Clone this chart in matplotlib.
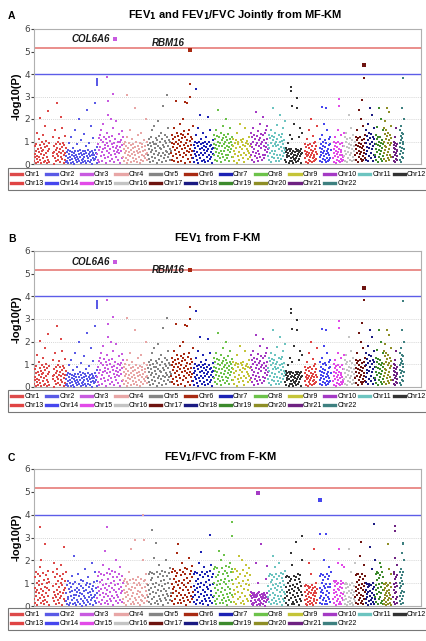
import matplotlib
matplotlib.use("Agg")
import matplotlib.pyplot as plt
import numpy as np
from matplotlib.lines import Line2D

CHROMS = [f"Chr{i}" for i in range(1, 23)]
CHR_LENGTH_MB = [247.2, 242.8, 199.5, 191.3, 180.9, 170.9, 158.8, 146.3, 140.3, 135.4, 134.5,
                 132.3, 114.1, 106.4, 100.3, 88.8, 78.8, 76.1, 63.8, 62.4, 46.9, 49.7]
CHR_COLORS = ["#dd4a4a", "#5a5ae6", "#c85ae0", "#e8a6a6", "#858585", "#a82a12", "#1c22b4",
              "#6cc24a", "#c4c438", "#a43ac4", "#6cc4c0", "#333333", "#e04444", "#4646ee",
              "#e24ae8", "#c4c4c4", "#6e1410", "#1a1a82", "#3c8a2c", "#8e8e26", "#6e2282",
              "#3e8080"]
DATA_START_MB = {13: 18, 14: 18, 15: 18, 21: 14, 22: 15}
GAP_MB = {1: (121, 143)}

# bulk -log10(P) values in hundredths, chr1 .. chr22 (panels A and B share them)
BULK_AB = [
    "12 45 78 33 5 91 60 23 140 37 8 66 110 29 52 85 17 205 44 71 3 96 58 130 26 63 9 88 40 170 15 74 49 101 31 6 82 57 235 20 68 94 11 47 120 36 79 2 55 150 27 89 61 14 43 270 72 35 99 18 53 115 65 7 87 30 210 48 76 160 22 59 93 39 4 84 125 51 16 69",
    "8 35 52 14 61 27 3 44 95 19 58 31 6 120 40 22 55 11 73 48 2 37 150 25 59 16 42 88 9 33 57 21 200 46 13 64 29 5 51 105 38 18 60 24 7 135 43 30 56 12 80 49 4 36 240 26 62 15 45 92 10 53 34 20 170 41 1 58 28 115 47 17 39 63 23 270 50 32 6 75",
    "45 90 20 115 62 8 130 77 35 105 150 55 12 98 68 180 40 122 85 28 72 110 5 60 140 95 33 220 80 50 118 15 102 66 200 38 88 125 24 74 160 57 10 93 43 112 70 30 190 82 52 100 18 64 135 48 97 75 3 108 58 145 26 86 120",
    "30 65 12 88 47 100 25 58 80 5 120 40 72 18 95 53 35 150 62 8 84 44 110 27 70 90 15 55 250 38 76 22 98 60 10 130 48 82 33 67 3 92 52 20 140 74 42 87 14 57 105 36 78 28 64 200 45 96 18 50",
    "40 85 110 22 68 95 10 120 55 78 32 150 62 100 15 88 45 170 72 28 115 58 90 5 105 38 80 190 50 125 18 70 98 35 140 65 8 112 48 84 260 26 75 102 42 130 60 92 12 118 52 160 30 82 108 45 68 20 96 57",
    "50 95 130 20 75 110 35 160 88 12 120 62 100 280 45 140 70 28 125 90 8 105 55 180 80 40 135 98 15 115 66 200 30 128 85 48 145 72 5 118 93 38 270 60 108 22 132 78 52 150 10 102 68 42 122 86 25 112 58 170",
    "25 60 85 10 100 45 70 130 35 92 18 55 160 78 5 98 40 65 220 28 88 50 110 15 72 95 38 140 62 20 82 100 48 8 75 120 33 90 58 12 210 68 42 96 22 80 150 52 30 86 65 3 105 44 70",
    "40 90 130 20 70 110 55 150 85 12 125 65 35 100 240 78 50 118 28 95 140 60 8 105 80 45 170 115 30 88 128 58 18 98 72 200 42 120 82 25 108 62 135 38 92 15 76 112 52 160 68 100 32 84 122",
    "30 80 110 15 60 95 45 105 70 5 140 88 35 100 55 20 180 75 108 40 65 98 25 85 112 50 10 160 78 92 38 68 102 22 58 90 120 48 82 33",
    "40 90 140 20 75 120 55 160 100 10 130 65 35 110 230 85 50 125 28 95 145 60 15 105 80 45 180 115 30 88 135 70 18 98 210 42 128 82 25 108 62 138 38 92 150 76 112 52 170 68",
    "35 85 130 18 70 115 50 150 95 8 125 60 30 105 250 80 45 120 25 90 140 58 12 100 78 42 175 110 28 86 128 66 15 96 220 40 122 75 22 102 58 132 36 88 160 72 108 48 190 62",
    "20 55 70 8 40 62 30 95 48 3 66 35 15 58 130 44 25 68 12 50 110 32 5 60 42 22 180 52 18 38 65 28 10 56 250 36 64 46 14 54 120 24 60 34 160 45 68 6 140 50",
    "25 60 90 10 45 75 35 110 55 5 85 40 20 70 150 50 30 88 15 62 200 38 8 80 48 28 125 58 12 42 92 32 18 66 100 22 78 52 170 44",
    "30 70 110 12 55 90 40 130 65 8 100 48 22 80 180 60 35 105 18 75 250 45 10 95 58 28 150 68 15 50 112 38 20 85 120 25 88 62",
    "28 65 100 10 50 82 35 120 60 5 92 45 18 75 150 55 30 98 15 68 260 40 8 88 52 22 130 62 12 42 95 32 20 78 140",
    "35 80 120 15 60 100 45 140 75 8 110 55 25 90 220 70 40 115 20 85 160 50 12 105 65 30 130 78 18 58 98 42",
    "40 85 120 18 65 105 50 150 80 10 115 60 30 95 240 75 45 118 22 88 200 55 12 108 70 35 170 82 20 62 112 48 28 92 130",
    "45 95 150 20 75 125 60 180 105 12 140 70 35 115 250 88 50 135 25 100 220 65 15 120 80 40 160 110 30 90",
    "40 90 130 18 68 110 52 165 85 10 122 62 32 100 250 78 45 118 24 95 200 58 14 108 72 36 150 88",
    "50 100 160 22 80 135 62 190 110 12 150 75 38 125 250 95 55 140 28 105 230 68 18 130 85 42 170 115 32 92",
    "30 70 100 12 55 85 40 120 65 8 95 48 22 78 160 58 35 90 18 62",
    "45 95 150 18 75 125 60 170 105 10 140 70 32 115 250 88 50 135 25 100 200 65",
]

BULK_C = [
    "30 80 125 15 60 150 45 100 5 70 140 25 110 55 90 170 35 130 12 75 200 50 95 20 145 65 8 115 40 85 270 28 135 58 100 18 78 155 42 120 3 68 105 33 148 88 22 60 190 48 125 10 95 38 140 72 160 26 110 52 82 14 130 62 36 100 180 45 118 6 90 56 138 30 70 260 20 108 80 150",
    "20 55 90 8 40 110 30 75 3 60 100 15 85 45 65 130 25 95 10 50 220 35 70 12 105 48 5 80 28 62 140 18 98 42 72 10 58 115 32 88 2 52 78 22 108 66 14 45 160 36 92 6 70 28 102 55 125 18 82 38 60 9 96 46 26 74 190 33 86 4 64 40 106 22 50 150 12 80 58 110",
    "35 85 130 18 65 150 48 105 8 75 140 28 115 58 92 180 38 135 12 78 240 52 98 22 145 68 10 120 42 88 160 30 138 60 102 20 80 155 45 125 5 70 108 34 150 90 24 62 200 50 128 14 96 40 142 74 170 28 112 55 84 16 132 64 100",
    "30 70 110 12 55 120 40 88 5 62 105 22 95 48 75 150 32 115 10 68 250 44 82 18 118 58 8 100 36 78 290 26 112 52 90 15 66 125 38 102 3 60 92 28 120 80 20 50 200 42 108 12 85 35 115 64 140 24 96 46",
    "40 90 140 18 70 150 52 112 8 80 145 30 122 62 98 210 40 138 14 84 275 55 102 24 148 72 10 125 45 92 180 32 140 64 108 20 86 155 48 130 5 76 114 36 150 95 26 66 200 52 132 15 100 42 145 78 165 28 118 58",
    "45 95 150 20 75 160 55 120 10 85 155 32 130 65 105 230 42 145 15 90 270 58 110 26 158 78 12 135 48 100 190 35 148 70 115 22 92 165 50 140 6 82 122 38 160 102 28 72 210 56 142 16 108 45 152 85 175 30 125 62",
    "40 88 140 18 68 150 50 110 8 78 145 28 120 60 95 190 38 135 12 82 235 52 100 22 148 70 10 125 44 90 170 30 138 62 105 20 84 150 46 130 5 74 112 34 155 92 24 64 180 50 128 14 98 40 142",
    "45 100 160 20 80 170 55 125 10 90 165 32 135 68 110 240 42 150 15 95 200 60 115 25 168 80 12 140 50 105 225 35 155 72 120 22 98 175 52 145 6 85 130 38 170 108 28 75 190 58 148 16 112 46 160",
    "40 95 150 18 72 160 52 118 8 82 155 30 128 62 100 220 38 140 14 88 200 55 108 22 158 75 10 132 45 98 180 32 145 68 112 20 90 165 48 136",
    "20 45 60 8 35 55 15 50 3 40 58 12 48 28 38 190 18 52 6 42 100 25 56 10 60 32 4 46 22 38 270 14 54 30 44 9 36 58 20 50 2 34 48 16 120 40 26 56 175 30",
    "38 88 130 16 66 140 48 106 8 76 135 28 116 58 92 220 36 128 12 80 170 50 98 20 138 68 10 120 42 86 190 30 132 60 100 18 82 145 44 122 5 72 108 32 140 90 24 62 155 52",
    "36 82 125 14 62 130 45 100 6 72 128 26 110 55 88 230 34 120 10 76 180 48 94 18 130 64 8 115 40 84 280 28 126 58 96 16 78 140 42 118 4 68 104 30 135 86 22 60 200 50",
    "25 60 88 10 45 90 32 72 5 52 86 18 78 40 62 190 24 85 8 55 140 35 68 14 90 48 6 80 30 58 250 20 84 44 66 12 56 100 28 75",
    "35 80 130 15 62 140 45 100 8 72 135 26 112 55 88 200 34 125 10 78 315 48 95 20 138 65 8 118 40 85 170 30 130 58 98 18 82 150",
    "30 72 110 12 55 105 40 88 6 62 108 22 95 48 75 190 32 100 10 68 250 44 82 18 110 58 8 98 36 78 180 26 102 52 170",
    "25 60 95 10 45 100 32 78 5 55 98 18 85 40 65 250 24 90 8 58 150 35 72 14 100 48 6 88 30 62 190 20",
    "38 85 135 15 65 140 48 105 8 75 138 28 115 58 92 220 36 128 12 80 280 50 98 20 140 68 10 120 42 86 180 30 132 60 100",
    "30 70 100 12 52 95 38 82 6 60 98 20 88 44 66 260 28 92 10 58 160 36 74 16 100 50 8 84 32 200",
    "40 90 140 18 70 150 52 112 8 80 145 30 122 62 98 190 40 135 14 84 170 55 102 24 148 72 10 125",
    "28 68 98 10 50 95 36 80 5 58 100 18 86 42 64 270 26 90 8 56 160 34 72 14 100 48 6 82 30 140",
    "40 95 140 18 70 150 55 118 8 82 210 30 125 62 100 180 38 135 14 88",
    "45 100 150 20 78 160 58 122 10 88 230 32 135 66 110 270 42 148 15 95 200 60",
]

# strongest signals outside the bulk: chromosome, position (Mb), -log10(P)
TOP_AB_CHR = [2, 2, 2, 2, 2, 3, 3, 3, 4, 5, 6, 6, 6, 7, 12, 12, 12, 12, 14, 15, 17, 17, 22]
TOP_AB_MB = [240, 240, 240, 240, 240, 73, 84, 122, 31, 150, 147, 147, 110, 23, 44, 44, 50, 90,
             40, 60, 55, 65, 45]
TOP_AB_P = [3.50, 3.58, 3.65, 3.72, 3.80, 3.85, 2.80, 3.10, 3.05, 3.05, 3.55, 3.00, 2.75, 3.35,
            3.42, 3.25, 2.58, 2.94, 2.55, 2.90, 2.84, 3.83, 3.81]

TOP_C_CHR = [1, 3, 4, 4, 5, 7, 8, 8, 12, 14, 18, 21, 21, 22]
TOP_C_MB = [46, 76, 155, 160, 34, 132, 143, 145, 129, 20, 67, 27, 29, 40]
TOP_C_P = [3.44, 3.47, 4.00, 2.90, 3.35, 3.10, 3.69, 3.07, 3.06, 3.15, 3.59, 3.50, 3.30, 2.74]

# highlighted hits per panel: chromosome, position (Mb), -log10(P), gene label
HITS_A = [(3, 138, 5.55, "COL6A6"), (6, 148, 5.05, "RBM16"), (17, 68, 4.40, "")]
HITS_B = [(3, 138, 5.50, "COL6A6"), (6, 148, 5.15, "RBM16"), (17, 68, 4.35, "")]
HITS_C = [(10, 58, 4.95, ""), (14, 23, 4.65, "")]

GENOME_WIDE = 5.15
SUGGESTIVE = 4.0

OFFSETS = np.concatenate([[0.0], np.cumsum(CHR_LENGTH_MB)[:-1]])


def bulk_positions(chrom, n):
    start = DATA_START_MB.get(chrom, 0.0)
    end = CHR_LENGTH_MB[chrom - 1]
    gap = GAP_MB.get(chrom)
    t = (np.arange(n) + 0.5) / n
    if gap:
        width = gap[1] - gap[0]
        mb = start + t * (end - start - width)
        mb = np.where(mb >= gap[0], mb + width, mb)
    else:
        mb = start + t * (end - start)
    return OFFSETS[chrom - 1] + mb


def draw_panel(ax, bulk, top_chr, top_mb, top_p, hits, label_y):
    for i, vals in enumerate(bulk):
        y = np.array(vals.split(), dtype=float) / 100.0
        x = bulk_positions(i + 1, len(y))
        ax.scatter(x, y, s=3.4, marker="s", linewidths=0, color=CHR_COLORS[i], zorder=3)
    for c, mb, p in zip(top_chr, top_mb, top_p):
        ax.scatter(OFFSETS[c - 1] + mb, p, s=2.4, marker="s", linewidths=0,
                   color=CHR_COLORS[c - 1], zorder=3)
    ax.axhline(GENOME_WIDE, color="#e4706c", lw=1.1, zorder=2)
    ax.axhline(SUGGESTIVE, color="#5c5ce8", lw=1.0, zorder=2)
    for (c, mb, p, name), ly in zip(hits, label_y):
        x = OFFSETS[c - 1] + mb
        ax.scatter(x, p, s=9, marker="s", linewidths=0, color=CHR_COLORS[c - 1], zorder=4)
        if name:
            ax.text(x - 40, ly, name, ha="right", va="center", fontsize=7,
                    fontweight="bold", style="italic", color="#1a1a1a",
                    family="Liberation Sans", zorder=5)
    ax.set_xlim(0, 3000)
    ax.set_ylim(0, 6)
    ax.set_xticks([])
    ax.set_yticks(range(7))
    ax.tick_params(axis="y", labelsize=6.5, length=2, pad=1, colors="#444444")
    for yy in (1, 2, 3):
        ax.axhline(yy, color="#c8c8c8", lw=0.6, ls=(0, (1, 1.5)), zorder=1)
    for sp in ax.spines.values():
        sp.set_color("#b0b0b0")
        sp.set_linewidth(0.8)
    ax.set_ylabel("-log10(P)", fontsize=8, fontweight="bold", labelpad=2,
                  family="Liberation Sans")


W, H = 426, 641
fig = plt.figure(figsize=(W / 100, H / 100), dpi=100)

panels = [
    ("A", r"FEV$_\mathbf{1}$ and FEV$_\mathbf{1}$/FVC Jointly from MF-KM", 235, 29, 164, 168, 191, 15,
     BULK_AB, TOP_AB_CHR, TOP_AB_MB, TOP_AB_P, HITS_A, [5.55, 5.38, 0]),
    ("B", r"FEV$_\mathbf{1}$ from F-KM", 218, 251, 387, 390, 414, 238,
     BULK_AB, TOP_AB_CHR, TOP_AB_MB, TOP_AB_P, HITS_B, [5.5, 5.15, 0]),
    ("C", r"FEV$_\mathbf{1}$/FVC from F-KM", 220, 469, 606, 608, 632, 457,
     BULK_C, TOP_C_CHR, TOP_C_MB, TOP_C_P, HITS_C, [0, 0]),
]

# legend fills column by column; order so rows read Chr1..Chr12 then Chr13..Chr22
order = []
for j in range(12):
    order.append(j)
    if j + 12 < 22:
        order.append(j + 12)
handles = [Line2D([], [], color=CHR_COLORS[k], lw=2.4) for k in order]
labels = [CHROMS[k] for k in order]

for letter, title, tx, top, bottom, lg_top, lg_bot, ty, bulk, tc, tm, tp, hits, ly in panels:
    ax = fig.add_axes([34 / W, 1 - bottom / H, (421 - 34) / W, (bottom - top) / H])
    draw_panel(ax, bulk, tc, tm, tp, hits, ly)
    fig.text(tx / W, 1 - ty / H, title, ha="center", va="center", fontsize=8,
             fontweight="bold", family="Liberation Sans")
    fig.text(8 / W, 1 - (ty + 1) / H, letter, ha="left", va="center", fontsize=7.5,
             fontweight="bold", family="Liberation Sans")
    leg = fig.legend(handles, labels, loc="upper left", ncol=12,
                     bbox_to_anchor=(8 / W, 1 - lg_top / H),
                     prop={"family": "Liberation Sans", "size": 5},
                     handlelength=1.6, handletextpad=0.3, columnspacing=0.35,
                     borderpad=0.45, labelspacing=0.3, frameon=True, fancybox=False,
                     borderaxespad=0)
    leg.get_frame().set_edgecolor("#555555")
    leg.get_frame().set_linewidth(0.8)

fig.savefig("out.png", dpi=100)
